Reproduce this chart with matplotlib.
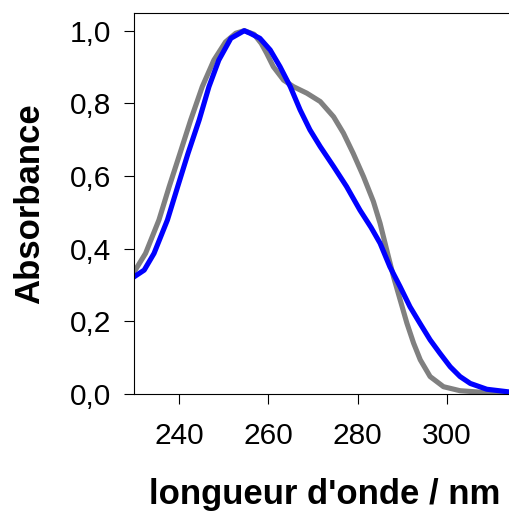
import matplotlib
matplotlib.use("Agg")
import matplotlib.pyplot as plt
from matplotlib.ticker import FuncFormatter

# spectre gris (reference)
lambda_gris = [230.0, 232.5, 235.5, 237.8, 240.2, 242.6, 245.2, 247.8, 250.4, 252.7,
               254.6, 256.8, 258.4, 259.6, 261.1, 263.4, 265.6, 268.6, 271.6, 274.6,
               276.8, 279.0, 281.3, 283.5, 285.0, 286.5, 288.0, 289.5, 291.0, 292.5,
               294.0, 296.2, 299.2, 302.9, 307.4, 315.0]
abs_gris = [0.337, 0.387, 0.479, 0.571, 0.662, 0.754, 0.846, 0.919, 0.969, 0.993,
            1.000, 0.990, 0.965, 0.938, 0.901, 0.864, 0.846, 0.828, 0.805, 0.763,
            0.718, 0.662, 0.598, 0.530, 0.470, 0.396, 0.323, 0.259, 0.195, 0.140,
            0.094, 0.048, 0.020, 0.009, 0.005, 0.002]

# spectre bleu
lambda_bleu = [230.0, 232.2, 234.4, 237.4, 239.7, 242.0, 244.5, 246.7, 248.9, 251.6,
               254.6, 255.9, 258.1, 260.4, 262.6, 264.9, 267.1, 269.3, 271.6, 274.6,
               277.5, 280.5, 283.0, 285.0, 287.2, 289.5, 291.7, 293.9, 296.2, 298.4,
               300.7, 302.9, 305.2, 308.9, 315.0]
abs_bleu = [0.323, 0.341, 0.387, 0.479, 0.571, 0.662, 0.754, 0.846, 0.919, 0.979,
            1.000, 0.993, 0.979, 0.947, 0.901, 0.846, 0.782, 0.727, 0.681, 0.626,
            0.571, 0.506, 0.458, 0.415, 0.350, 0.295, 0.240, 0.195, 0.149, 0.112,
            0.075, 0.048, 0.029, 0.013, 0.004]

xticks = [240, 260, 280, 300]
yticks = [0.0, 0.2, 0.4, 0.6, 0.8, 1.0]

plt.rcParams["font.family"] = ["Liberation Sans", "DejaVu Sans"]

fig = plt.figure(figsize=(5.09, 5.11), dpi=100)
ax = fig.add_axes([0.264, 0.229, 0.746, 0.7465])

ax.plot(lambda_gris, abs_gris, color="#808080", lw=3.7, solid_joinstyle="round")
ax.plot(lambda_bleu, abs_bleu, color="#0000ff", lw=3.7, solid_joinstyle="round")

ax.set_xlim(230, 315)
ax.set_ylim(0, 1.05)
ax.set_xticks(xticks)
ax.set_yticks(yticks)
ax.yaxis.set_major_formatter(FuncFormatter(lambda v, p: f"{v:.1f}".replace(".", ",")))
ax.tick_params(direction="out", length=7, width=0.8, labelsize=21.5)
ax.tick_params(axis="x", pad=13)
ax.tick_params(axis="y", pad=10)

for s in ax.spines.values():
    s.set_linewidth(0.8)

# le descendant du "g" touche le bord bas, comme sur l'original
ax.set_xlabel("longueur d'onde / nm", fontsize=25, fontweight="bold", labelpad=20)
ax.set_ylabel("Absorbance", fontsize=25, fontweight="bold", labelpad=17)

fig.savefig("out.png", dpi=100)
